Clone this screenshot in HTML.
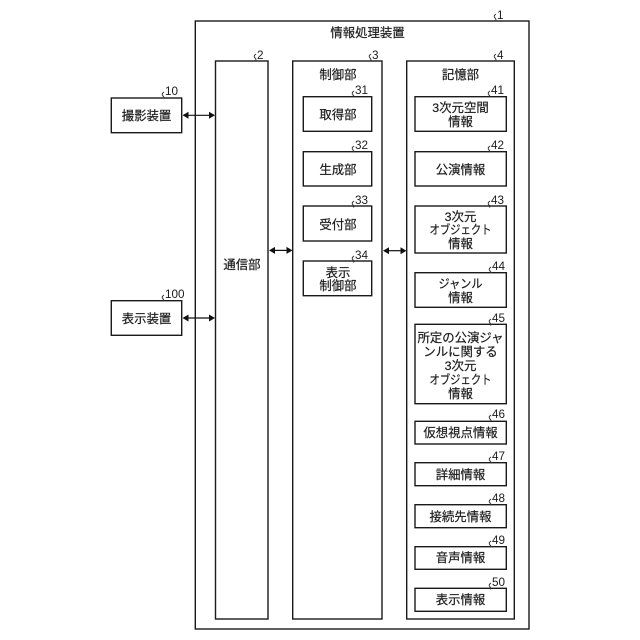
<!DOCTYPE html>
<html><head><meta charset="utf-8"><style>
html,body{margin:0;padding:0;background:#fff}
svg{display:block}
text{font-family:"Liberation Sans","Noto Sans CJK JP",sans-serif;fill:#1c1c1c}
.j{font-size:12.4px;text-anchor:middle;stroke:#1c1c1c;stroke-width:.2}
.n{font-size:11.7px}
rect{fill:#fff;stroke:#1a1a1a;stroke-width:1.4}
.s{fill:none;stroke:#333;stroke-width:1}
.l{stroke:#111;stroke-width:1.2}
.a{fill:#111}
</style></head><body>
<svg width="640" height="640" viewBox="0 0 640 640" xmlns="http://www.w3.org/2000/svg">
<rect x="195.3" y="21" width="333.7" height="608"/>
<rect x="215.5" y="61" width="52.5" height="558"/>
<rect x="292.7" y="61" width="89.3" height="558"/>
<rect x="406.7" y="61" width="107.6" height="558"/>
<rect x="111.3" y="98" width="70.4" height="34.7"/>
<rect x="111.3" y="300.7" width="70.4" height="34.6"/>
<rect x="303.3" y="96.7" width="68.4" height="34.6"/>
<rect x="303.3" y="151.7" width="68.4" height="34.3"/>
<rect x="303.3" y="206" width="68.4" height="35"/>
<rect x="303.3" y="261" width="68.4" height="34.7"/>
<rect x="415" y="96.7" width="91.3" height="34.6"/>
<rect x="415" y="151.7" width="91.3" height="34.3"/>
<rect x="415" y="206" width="91.3" height="47"/>
<rect x="415" y="272.7" width="91.3" height="34.6"/>
<rect x="415" y="324.3" width="91.3" height="79.4"/>
<rect x="415" y="421.3" width="91.3" height="22.7"/>
<rect x="415" y="462.7" width="91.3" height="23"/>
<rect x="415" y="504.7" width="91.3" height="23"/>
<rect x="415" y="546.7" width="91.3" height="22.6"/>
<rect x="415" y="588.3" width="91.3" height="23"/>

<line class="l" x1="186" y1="115.3" x2="211" y2="115.3"/>
<path class="a" d="M182.5 115.3l6-3.5v7zM215 115.3l-6-3.5v7z"/>
<line class="l" x1="186" y1="318" x2="211" y2="318"/>
<path class="a" d="M182.5 318l6-3.5v7zM215 318l-6-3.5v7z"/>
<line class="l" x1="273" y1="250.4" x2="288" y2="250.4"/>
<path class="a" d="M269 250.4l6-3.5v7zM292.5 250.4l-6-3.5v7z"/>
<line class="l" x1="387" y1="250.7" x2="402" y2="250.7"/>
<path class="a" d="M383 250.7l6-3.5v7zM406.5 250.7l-6-3.5v7z"/>

<text class="j" x="367.5" y="37">情報処理装置</text>
<text class="j" x="146.5" y="120">撮影装置</text>
<text class="j" x="146.5" y="323">表示装置</text>
<text class="j" x="242" y="269">通信部</text>
<text class="j" x="338" y="79">制御部</text>
<text class="j" x="460.5" y="79">記憶部</text>
<text class="j" x="338" y="119">取得部</text>
<text class="j" x="338" y="174">生成部</text>
<text class="j" x="338" y="229">受付部</text>
<text class="j" x="338" y="277">表示</text>
<text class="j" x="338" y="290">制御部</text>
<text class="j" x="460.5" y="112">3次元空間</text>
<text class="j" x="460.5" y="126">情報</text>
<text class="j" x="460.5" y="174">公演情報</text>
<text class="j" x="460.5" y="221">3次元</text>
<text class="j" x="460.5" y="234" textLength="62" lengthAdjust="spacingAndGlyphs">オブジェクト</text>
<text class="j" x="460.5" y="248">情報</text>
<text class="j" x="460.5" y="288" textLength="44" lengthAdjust="spacingAndGlyphs">ジャンル</text>
<text class="j" x="460.5" y="302">情報</text>
<text class="j" x="460.5" y="342">所定の公演ジャ</text>
<text class="j" x="460.5" y="356">ンルに関する</text>
<text class="j" x="460.5" y="370">3次元</text>
<text class="j" x="460.5" y="384" textLength="62" lengthAdjust="spacingAndGlyphs">オブジェクト</text>
<text class="j" x="460.5" y="398">情報</text>
<text class="j" x="460.5" y="437">仮想視点情報</text>
<text class="j" x="460.5" y="479">詳細情報</text>
<text class="j" x="460.5" y="521">接続先情報</text>
<text class="j" x="460.5" y="562">音声情報</text>
<text class="j" x="460.5" y="604">表示情報</text>

<text class="n" x="497" y="19">1</text><path class="s" d="M496 14q-3 2-1 4t0 3"/>
<text class="n" x="257" y="59">2</text><path class="s" d="M256 54q-3 2-1 4t0 3"/>
<text class="n" x="372" y="59">3</text><path class="s" d="M371 54q-3 2-1 4t0 3"/>
<text class="n" x="497" y="59">4</text><path class="s" d="M496 54q-3 2-1 4t0 3"/>
<text class="n" x="165" y="95">10</text><path class="s" d="M164 92q-3 2-1 4t0 2"/>
<text class="n" x="165" y="298">100</text><path class="s" d="M164 295q-3 2-1 4t0 2"/>
<text class="n" x="355" y="94">31</text><path class="s" d="M354 91q-3 2-1 4t0 2"/>
<text class="n" x="355" y="149">32</text><path class="s" d="M354 146q-3 2-1 4t0 2"/>
<text class="n" x="355" y="204">33</text><path class="s" d="M354 201q-3 2-1 4t0 2"/>
<text class="n" x="355" y="259">34</text><path class="s" d="M354 256q-3 2-1 4t0 2"/>
<text class="n" x="491" y="94">41</text><path class="s" d="M490 91q-3 2-1 4t0 2"/>
<text class="n" x="491" y="149">42</text><path class="s" d="M490 146q-3 2-1 4t0 2"/>
<text class="n" x="491" y="204">43</text><path class="s" d="M490 201q-3 2-1 4t0 2"/>
<text class="n" x="492" y="270">44</text><path class="s" d="M491 267q-3 2-1 4t0 2"/>
<text class="n" x="492" y="322">45</text><path class="s" d="M491 319q-3 2-1 4t0 2"/>
<text class="n" x="492" y="418">46</text><path class="s" d="M491 415q-3 2-1 4t0 2"/>
<text class="n" x="492" y="460">47</text><path class="s" d="M491 457q-3 2-1 4t0 2"/>
<text class="n" x="492" y="502">48</text><path class="s" d="M491 499q-3 2-1 4t0 2"/>
<text class="n" x="492" y="544">49</text><path class="s" d="M491 541q-3 2-1 4t0 2"/>
<text class="n" x="492" y="586">50</text><path class="s" d="M491 583q-3 2-1 4t0 2"/>
</svg>
</body></html>
